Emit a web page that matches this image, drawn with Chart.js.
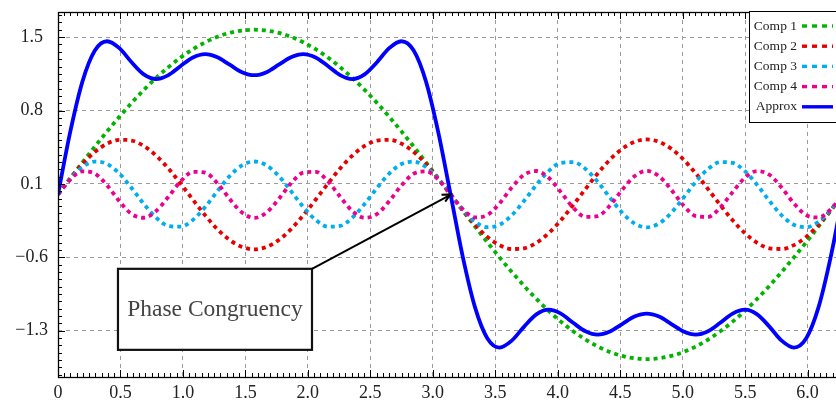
<!DOCTYPE html>
<html>
<head>
<meta charset="utf-8">
<title>Fourier components</title>
<script src="https://cdn.jsdelivr.net/npm/chart.js@4.4.0/dist/chart.umd.min.js"></script>
<style>
  html, body { margin: 0; padding: 0; background: #fff; overflow: hidden; }
  #wrap { position: absolute; left: 0; top: 0; width: 850px; height: 401px; }
</style>
</head>
<body>
<div id="wrap"><canvas id="chart" width="850" height="401"></canvas></div>
<script>
// ----------------- DATA -----------------
// sample positions over one period, 0 .. 2pi
const xs = [0, 0.098, 0.196, 0.295, 0.393, 0.491, 0.589, 0.687, 0.785, 0.884, 0.982, 1.080, 1.178, 1.276, 1.374, 1.473,
  1.571, 1.669, 1.767, 1.865, 1.963, 2.062, 2.160, 2.258, 2.356, 2.454, 2.553, 2.651, 2.749, 2.847, 2.945, 3.043,
  3.142, 3.240, 3.338, 3.436, 3.534, 3.632, 3.731, 3.829, 3.927, 4.025, 4.123, 4.222, 4.320, 4.418, 4.516, 4.614,
  4.712, 4.811, 4.909, 5.007, 5.105, 5.203, 5.301, 5.400, 5.498, 5.596, 5.694, 5.792, 5.890, 5.989, 6.087, 6.185, 6.283];

const comp1 = [0, 0.154, 0.306, 0.456, 0.601, 0.740, 0.873, 0.997, 1.111, 1.214, 1.306, 1.385, 1.451, 1.503, 1.541, 1.563,
  1.571, 1.563, 1.541, 1.503, 1.451, 1.385, 1.306, 1.214, 1.111, 0.997, 0.873, 0.740, 0.601, 0.456, 0.306, 0.154,
  0, -0.154, -0.306, -0.456, -0.601, -0.740, -0.873, -0.997, -1.111, -1.214, -1.306, -1.385, -1.451, -1.503, -1.541, -1.563,
  -1.571, -1.563, -1.541, -1.503, -1.451, -1.385, -1.306, -1.214, -1.111, -0.997, -0.873, -0.740, -0.601, -0.456, -0.306, -0.154, 0];

const comp2 = [0, 0.152, 0.291, 0.405, 0.484, 0.521, 0.514, 0.462, 0.370, 0.247, 0.102, -0.051, -0.200, -0.332, -0.435, -0.501,
  -0.524, -0.501, -0.435, -0.332, -0.200, -0.051, 0.102, 0.247, 0.370, 0.462, 0.514, 0.521, 0.484, 0.405, 0.291, 0.152,
  0, -0.152, -0.291, -0.405, -0.484, -0.521, -0.514, -0.462, -0.370, -0.247, -0.102, 0.051, 0.200, 0.332, 0.435, 0.501,
  0.524, 0.501, 0.435, 0.332, 0.200, 0.051, -0.102, -0.247, -0.370, -0.462, -0.514, -0.521, -0.484, -0.405, -0.291, -0.152, 0];

const comp3 = [0, 0.148, 0.261, 0.313, 0.290, 0.199, 0.061, -0.091, -0.222, -0.301, -0.308, -0.243, -0.120, 0.031, 0.175, 0.277,
  0.314, 0.277, 0.175, 0.031, -0.120, -0.243, -0.308, -0.301, -0.222, -0.091, 0.061, 0.199, 0.290, 0.313, 0.261, 0.148,
  0, -0.148, -0.261, -0.313, -0.290, -0.199, -0.061, 0.091, 0.222, 0.301, 0.308, 0.243, 0.120, -0.031, -0.175, -0.277,
  -0.314, -0.277, -0.175, -0.031, 0.120, 0.243, 0.308, 0.301, 0.222, 0.091, -0.061, -0.199, -0.290, -0.313, -0.261, -0.148, 0];

const comp4 = [0, 0.142, 0.220, 0.198, 0.086, -0.065, -0.187, -0.223, -0.159, -0.022, 0.125, 0.215, 0.207, 0.106, -0.044, -0.173,
  -0.224, -0.173, -0.044, 0.106, 0.207, 0.215, 0.125, -0.022, -0.159, -0.223, -0.187, -0.065, 0.086, 0.198, 0.220, 0.142,
  0, -0.142, -0.220, -0.198, -0.086, 0.065, 0.187, 0.223, 0.159, 0.022, -0.125, -0.215, -0.207, -0.106, 0.044, 0.173,
  0.224, 0.173, 0.044, -0.106, -0.207, -0.215, -0.125, 0.022, 0.159, 0.223, 0.187, 0.065, -0.086, -0.198, -0.220, -0.142, 0];

const approx = [0, 0.596, 1.078, 1.372, 1.461, 1.395, 1.261, 1.145, 1.100, 1.138, 1.225, 1.306, 1.338, 1.308, 1.237, 1.166,
  1.137, 1.166, 1.237, 1.308, 1.338, 1.306, 1.225, 1.138, 1.100, 1.145, 1.261, 1.395, 1.461, 1.372, 1.078, 0.596,
  0, -0.596, -1.078, -1.372, -1.461, -1.395, -1.261, -1.145, -1.100, -1.138, -1.225, -1.306, -1.338, -1.308, -1.237, -1.166,
  -1.137, -1.166, -1.237, -1.308, -1.338, -1.306, -1.225, -1.138, -1.100, -1.145, -1.261, -1.395, -1.461, -1.372, -1.078, -0.596, 0];

const seriesNames = ['Comp 1', 'Comp 2', 'Comp 3', 'Comp 4', 'Approx'];
const xTicks = [0, 0.5, 1.0, 1.5, 2.0, 2.5, 3.0, 3.5, 4.0, 4.5, 5.0, 5.5, 6.0];
const yTicks = [-1.3, -0.6, 0.1, 0.8, 1.5];
const calloutText = 'Phase Congruency';
const calloutPoint = { x: 3.1416, y: 0 };

// ----------------- STYLE -----------------
const SERIF = '"Liberation Serif", "DejaVu Serif", serif';
const palette = ['#00b400', '#e60000', '#00aeef', '#ec008c', '#0000ff'];
const calloutBox = { x0: 0.48, x1: 2.033, y0: -0.71, y1: -1.483 };

const series = [comp1, comp2, comp3, comp4, approx];

const datasets = series.map((vals, i) => {
  const solid = i === series.length - 1;
  return {
    label: seriesNames[i],
    data: xs.map((x, k) => ({ x, y: vals[k] })),
    borderColor: palette[i],
    borderWidth: 3.8,
    borderDash: solid ? [] : [4, 4],
    borderCapStyle: 'butt',
    pointRadius: 0,
    fill: false,
    cubicInterpolationMode: 'monotone',
    order: series.length - 1 - i   // approx on top
  };
});

function seg(ctx, x1, y1, x2, y2) {
  ctx.beginPath();
  ctx.moveTo(x1, y1);
  ctx.lineTo(x2, y2);
  ctx.stroke();
}

// frame, inward ticks, callout and legend box
const decorations = {
  id: 'decorations',
  afterDatasetsDraw(chart) {
    const { ctx, chartArea: a, scales } = chart;
    const sx = scales.x, sy = scales.y;
    ctx.save();

    // ticks on all four sides, 10 minor steps per major
    ctx.strokeStyle = '#000';
    ctx.lineWidth = 1;
    ctx.setLineDash([]);
    const xStep = (xTicks[1] - xTicks[0]) / 10;
    for (let k = 0; k * xStep <= sx.max + 1e-9; k++) {
      const len = k % 10 === 0 ? 7 : 4;
      const px = Math.round(sx.getPixelForValue(k * xStep)) + 0.5;
      seg(ctx, px, a.bottom, px, a.bottom - len);
      seg(ctx, px, a.top, px, a.top + len);
    }
    const yStep = (yTicks[1] - yTicks[0]) / 10;
    const kStart = Math.ceil((sy.min - yTicks[0]) / yStep);
    for (let k = kStart; yTicks[0] + k * yStep <= sy.max; k++) {
      const len = ((k % 10) + 10) % 10 === 0 ? 7 : 4;
      const py = Math.round(sy.getPixelForValue(yTicks[0] + k * yStep)) + 0.5;
      seg(ctx, a.left, py, a.left + len, py);
      seg(ctx, a.right, py, a.right - len, py);
    }

    ctx.lineWidth = 1.3;
    ctx.strokeRect(a.left + 0.5, a.top + 0.5, a.right - a.left, a.bottom - a.top);

    // callout box with arrow
    const bx0 = sx.getPixelForValue(calloutBox.x0), bx1 = sx.getPixelForValue(calloutBox.x1);
    const by0 = sy.getPixelForValue(calloutBox.y0), by1 = sy.getPixelForValue(calloutBox.y1);
    ctx.fillStyle = '#fff';
    ctx.fillRect(bx0, by0, bx1 - bx0, by1 - by0);
    ctx.strokeStyle = '#111';
    ctx.lineWidth = 2.2;
    ctx.strokeRect(bx0, by0, bx1 - bx0, by1 - by0);
    ctx.fillStyle = '#444';
    ctx.font = '23.5px ' + SERIF;
    ctx.textAlign = 'center';
    ctx.textBaseline = 'middle';
    ctx.fillText(calloutText, (bx0 + bx1) / 2, (by0 + by1) / 2);

    const tx = sx.getPixelForValue(calloutPoint.x), ty = sy.getPixelForValue(calloutPoint.y);
    ctx.strokeStyle = '#000';
    ctx.lineWidth = 2;
    seg(ctx, bx1, by0, tx - 1, ty + 1);
    const ang = Math.atan2(ty - by0, tx - bx1);
    ctx.beginPath();
    ctx.moveTo(tx - 9 * Math.cos(ang - 0.45), ty - 9 * Math.sin(ang - 0.45));
    ctx.lineTo(tx, ty);
    ctx.lineTo(tx - 9 * Math.cos(ang + 0.45), ty - 9 * Math.sin(ang + 0.45));
    ctx.stroke();

    // legend in the top right corner
    const lw = 94, lh = 111;
    const lx = a.right - lw, ly = a.top - 1;
    ctx.fillStyle = '#fff';
    ctx.fillRect(lx, ly, lw, lh);
    ctx.strokeStyle = '#000';
    ctx.lineWidth = 1;
    ctx.strokeRect(lx + 0.5, ly + 0.5, lw, lh);
    ctx.font = '13.5px ' + SERIF;
    ctx.textAlign = 'right';
    ctx.textBaseline = 'middle';
    chart.data.datasets.forEach((ds, i) => {
      const ry = ly + 15 + i * 20.2;
      ctx.fillStyle = '#222';
      ctx.fillText(ds.label, lx + 48, ry);
      ctx.strokeStyle = ds.borderColor;
      ctx.lineWidth = 3.4;
      ctx.setLineDash(ds.borderDash.length ? [5, 5] : []);
      seg(ctx, lx + 53, ry, lx + 84, ry);
    });
    ctx.restore();
  }
};

const fmt = v => (v < 0 ? '\u2212' : '') + Math.abs(v).toFixed(1);

new Chart(document.getElementById('chart'), {
  type: 'line',
  data: { datasets },
  options: {
    responsive: false,
    devicePixelRatio: 1,
    animation: false,
    events: [],
    layout: { padding: { top: 12, right: 7, left: 0, bottom: 0 } },
    plugins: { legend: { display: false }, tooltip: { enabled: false } },
    scales: {
      x: {
        type: 'linear',
        min: 0,
        max: 6.2832,
        afterBuildTicks: s => { s.ticks = xTicks.map(v => ({ value: v })); },
        afterFit: s => { s.height = 24; },
        ticks: {
          autoSkip: false,
          maxRotation: 0,
          padding: 5,
          color: '#222',
          font: { family: SERIF, size: 18 },
          callback: v => (v === 0 ? '0' : fmt(v))
        },
        grid: { color: '#9a9a9a', lineWidth: 1, drawTicks: false },
        border: { display: false, dash: [4, 4] }
      },
      y: {
        type: 'linear',
        min: -1.742,
        max: 1.74,
        afterBuildTicks: s => { s.ticks = yTicks.map(v => ({ value: v })); },
        afterFit: s => { s.width = 58; s.paddingTop = 0; s.paddingBottom = 0; },
        ticks: {
          crossAlign: 'center',
          padding: 10,
          color: '#222',
          font: { family: SERIF, size: 18 },
          callback: v => fmt(v)
        },
        grid: { color: '#9a9a9a', lineWidth: 1, drawTicks: false },
        border: { display: false, dash: [4, 4] }
      }
    }
  },
  plugins: [decorations]
});
</script>
</body>
</html>
